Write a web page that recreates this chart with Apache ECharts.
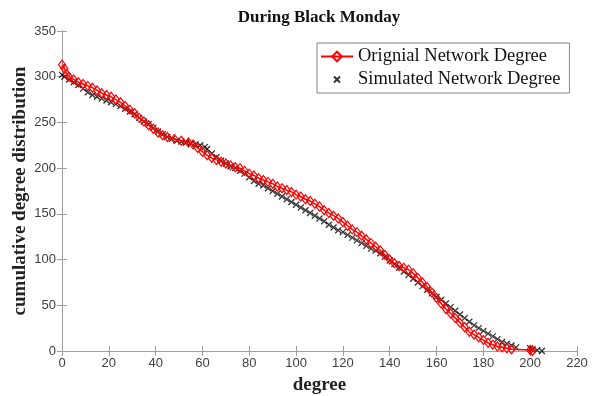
<!DOCTYPE html>
<html>
<head>
<meta charset="utf-8">
<script src="https://cdn.jsdelivr.net/npm/echarts@6/dist/echarts.min.js"></script>
<style>
html,body{margin:0;padding:0;background:#fff;}
#main{width:602px;height:396px;}
</style>
</head>
<body>
<div id="main"></div>
<script>
// 原始网络 (red diamonds)
var origX = [0,1,2,3,5,7,9,11,13,15,17,19,21,23,25,27,29,31,33,35,37,39,41,43,45,48,51,54,56,58,60,62,64,66,68,70,72,74,76,78,80,82,84,86,88,90,92,94,96,98,100,102,104,106,108,110,112,114,116,118,120,122,124,126,128,130,132,134,136,138,140,142,144,146,148,150,152,154,156,158,160,162,164,166,168,170,172,174,176,178,180,182,184,186,188,190,192,200,201];
var origY = [313,309,303,300,297,294,292,290,288,285,282,280,278,275,272,268,264,260,255,251,247,243,239,236,234,232,230,228,226,222,218,214,211,209,207,205,203,201,200,197,194,192,189,187,185,183,180,178,176,174,171,169,166,164,161,158,154,151,148,145,141,137,133,130,126,122,118,114,110,105,100,96,93,91,89,85,80,75,70,64,58,52,46,41,36,31,26,21,18,15,12,9,7,5,4,3,2,1,0];

// 模拟网络 (black x)
var simX = [0,1,3,5,7,9,11,13,15,17,19,21,23,25,27,29,31,33,35,37,39,41,43,45,47,49,51,53,55,57,59,61,62,64,66,68,70,72,74,76,78,80,82,84,86,88,90,92,94,96,98,100,102,104,106,108,110,112,114,116,118,120,122,124,126,128,130,132,134,136,138,140,142,144,146,148,150,152,154,156,158,160,162,164,166,168,170,172,174,176,178,180,182,184,186,188,190,192,194,200,201,203,205];
var simY = [302,300,297,294,291,287,283,280,278,276,274,272,270,268,265,262,259,255,251,248,244,240,237,234,232,230,229,228,227,226,225,223,221,216,212,208,205,202,200,197,194,190,186,183,181,178,175,172,169,166,163,160,157,154,151,148,145,142,138,135,132,130,127,124,121,118,115,112,110,107,103,99,95,91,87,83,79,75,71,67,63,59,56,52,48,44,40,36,32,28,25,22,19,16,13,10,8,6,4,3,2,1,0];

var xTicks = [0,20,40,60,80,100,120,140,160,180,200,220];
var yTicks = [0,50,100,150,200,250,300,350];

function pairs(xs, ys) {
    var out = [];
    for (var i = 0; i < xs.length; i++) out.push([xs[i], ys[i]]);
    return out;
}

var axisGray = '#a0a0a0';
var labelColor = '#404040';
// x 号, 四周留空让图例里的符号小一点
var crossPath = 'path://M0,0L0,0M20,20L20,20M5,5L15,15M15,5L5,15';

var myChart = echarts.init(document.getElementById('main'));
var option = {
    backgroundColor: '#fff',
    animation: false,
    title: {
        text: 'During Black Monday',
        left: 314,
        textAlign: 'center',
        top: 4,
        textStyle: {
            fontFamily: 'Liberation Serif',
            fontWeight: 'bold',
            fontSize: 17,
            color: '#111'
        }
    },
    grid: {left: 62, right: 25, top: 31, bottom: 45, containLabel: false, outerBoundsMode: 'none'},
    legend: {
        left: 317,
        top: 43,
        orient: 'vertical',
        itemGap: 4,
        itemWidth: 32,
        itemHeight: 12,
        padding: [4, 9, 4, 3],
        borderColor: '#888',
        borderWidth: 1,
        backgroundColor: '#fff',
        textStyle: {
            fontFamily: 'Liberation Serif',
            fontSize: 18.5,
            color: '#111'
        },
        data: ['Orignial Network Degree', 'Simulated Network Degree']
    },
    xAxis: [{
        type: 'value',
        min: 0, max: 220, interval: 20,
        name: 'degree',
        nameLocation: 'middle',
        nameGap: 25,
        nameTextStyle: {fontFamily: 'Liberation Serif', fontWeight: 'bold', fontSize: 19, color: '#222'},
        axisLine: {show: true, lineStyle: {color: axisGray}},
        axisTick: {inside: true, length: 5, lineStyle: {color: axisGray}},
        axisLabel: {color: labelColor, fontFamily: 'Liberation Sans', fontSize: 13, margin: 6},
        splitLine: {show: false}
    }, {
        type: 'value', position: 'top',
        min: 0, max: 220, interval: 20,
        axisLine: {show: true, lineStyle: {color: axisGray}},
        axisTick: {inside: true, length: 5, lineStyle: {color: axisGray}},
        axisLabel: {show: false},
        splitLine: {show: false}
    }],
    yAxis: [{
        type: 'value',
        min: 0, max: 350, interval: 50,
        name: 'cumulative degree distribution',
        nameLocation: 'middle',
        nameGap: 32,
        nameMoveOverlap: false,
        nameTextStyle: {fontFamily: 'Liberation Serif', fontWeight: 'bold', fontSize: 19, color: '#222'},
        axisLine: {show: true, lineStyle: {color: axisGray}},
        axisTick: {inside: true, length: 5, lineStyle: {color: axisGray}},
        axisLabel: {color: labelColor, fontFamily: 'Liberation Sans', fontSize: 13, margin: 6},
        splitLine: {show: false}
    }, {
        type: 'value', position: 'right',
        min: 0, max: 350, interval: 50,
        axisLine: {show: true, lineStyle: {color: axisGray}},
        axisTick: {inside: true, length: 5, lineStyle: {color: axisGray}},
        axisLabel: {show: false},
        splitLine: {show: false}
    }],
    series: [{
        name: 'Orignial Network Degree',
        type: 'line',
        data: pairs(origX, origY),
        symbol: 'diamond',
        symbolSize: [7, 9],
        showAllSymbol: true,
        lineStyle: {color: '#ff0000', width: 1.5},
        itemStyle: {color: 'rgba(255,255,255,0)', borderColor: '#ff0000', borderWidth: 1.2}
    }, {
        name: 'Simulated Network Degree',
        type: 'scatter',
        data: pairs(simX, simY),
        symbol: crossPath,
        symbolSize: 12,
        itemStyle: {color: 'rgba(0,0,0,0)', borderColor: '#000', borderWidth: 1.3}
    }]
};
myChart.setOption(option);
window.onresize = function () {
    myChart.resize();
};
</script>
</body>
</html>
